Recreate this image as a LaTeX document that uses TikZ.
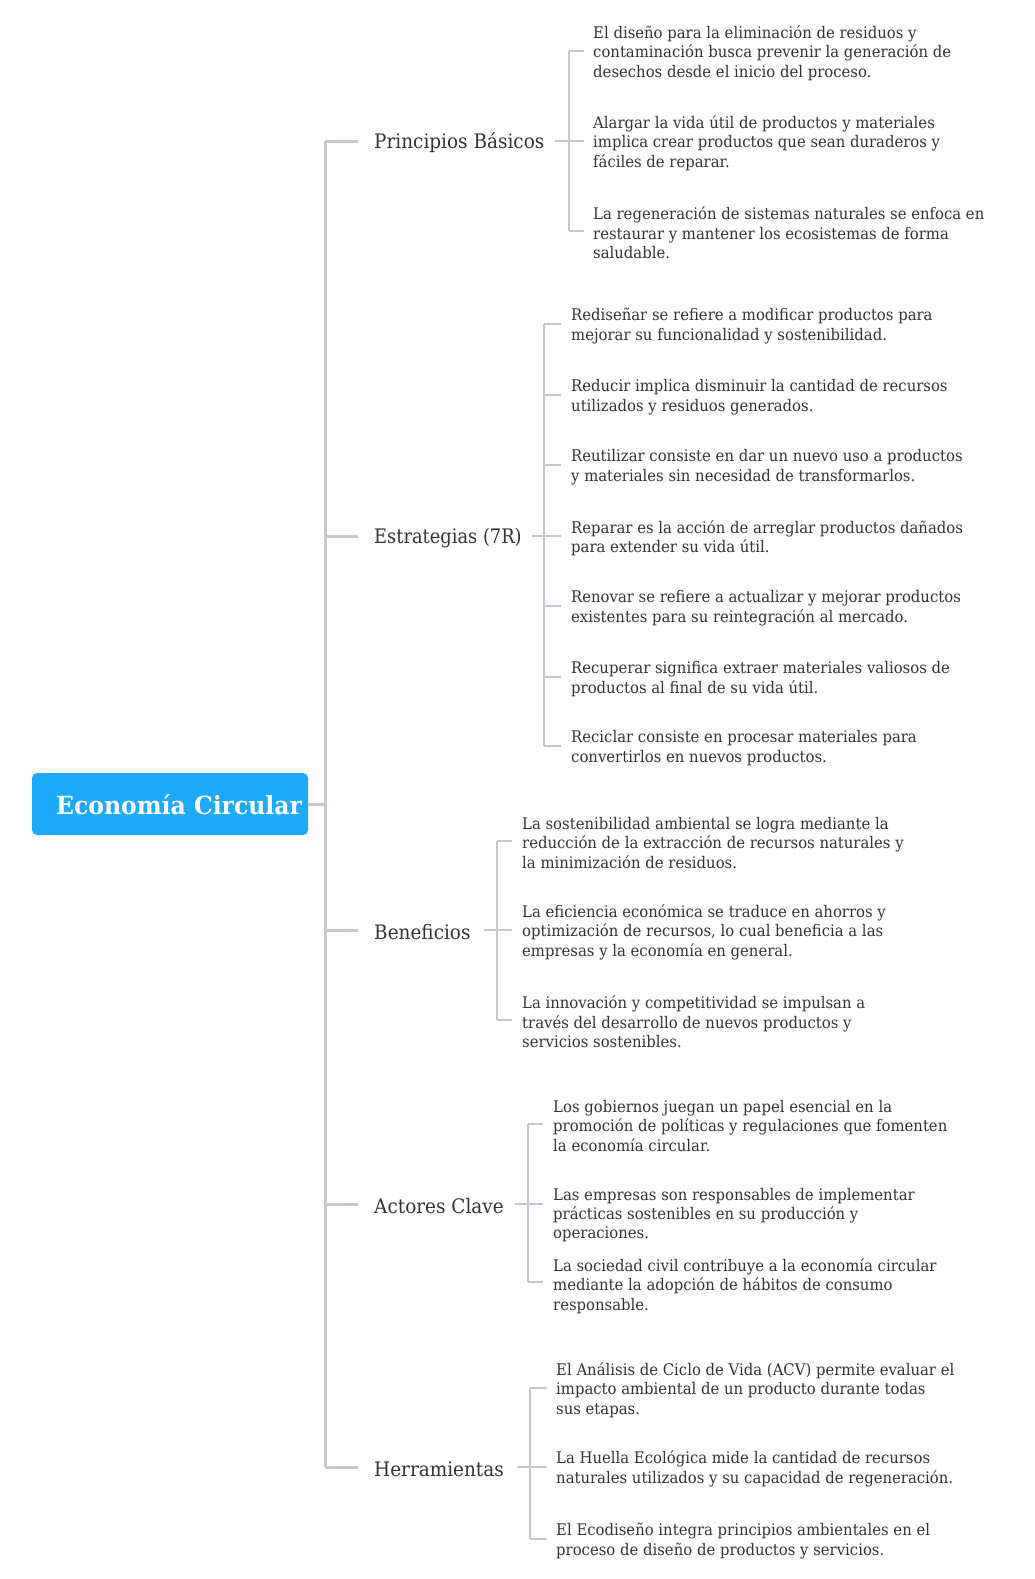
\documentclass[tikz,border=0pt]{standalone}
\usepackage{fontspec}
\setmainfont{DejaVu Serif}
\newfontfamily\leaffont[FakeStretch=0.928]{DejaVu Serif}
\newfontfamily\topicfont[FakeStretch=0.922]{DejaVu Serif}
\newfontfamily\topicfontnarrow[FakeStretch=0.892]{DejaVu Serif}
\newfontfamily\rootfont[FakeStretch=0.94]{DejaVu Serif}
\definecolor{txt}{HTML}{333333}
\definecolor{linec}{HTML}{C3C8CD}
\definecolor{rootblue}{HTML}{1EAAFC}
\tikzset{
  leaf/.style={anchor=west, align=left, inner sep=0pt, text=txt, yshift=-2pt,
    font=\leaffont\fontsize{16}{19.4}\selectfont},
  topic/.style={anchor=west, inner sep=0pt, text=txt, yshift=-2pt,
    font=\topicfont\fontsize{20}{24}\selectfont},
  roottext/.style={anchor=west, inner sep=0pt, text=white, yshift=-1pt,
    font=\rootfont\bfseries\fontsize{25}{30}\selectfont},
  trunk/.style={draw=linec, line width=3pt},
  br/.style={draw=linec, line width=2pt},
}
\begin{document}
\begin{tikzpicture}[x=1pt,y=-1pt]
\useasboundingbox (0,0) rectangle (1035,1579);
\fill[white] (0,0) rectangle (1035,1579);

% root
\fill[rootblue, rounded corners=5pt] (32,773) rectangle (308,835);
\node[roottext] (root) at (56,804) {Economía Circular};
\coordinate (rootE) at (308,804);
\coordinate (tk) at (325,804);

% topics
\node[topic] (t1) at (374,141) {Principios Básicos};
\node[topic, font=\topicfontnarrow\fontsize{20}{24}\selectfont] (t2) at (374,536) {Estrategias (7R)};
\node[topic] (t3) at (374,930) {Beneficios};
\node[topic] (t4) at (374,1204) {Actores Clave};
\node[topic] (t5) at (374,1467) {Herramientas};
\coordinate (y1) at (0,141);
\coordinate (y2) at (0,536);
\coordinate (y3) at (0,930);
\coordinate (y4) at (0,1204);
\coordinate (y5) at (0,1467);

% trunk
\draw[trunk] (rootE) -- (tk);
\draw[trunk] (tk |- y1) -- (tk |- y5);
\foreach \t in {1,2,3,4,5}
  \draw[trunk] (tk |- y\t) -- (358,0 |- y\t);

% ---------- Principios Basicos
\node[leaf] (l11) at (593,51) {El diseño para la eliminación de residuos y\\contaminación busca prevenir la generación de\\desechos desde el inicio del proceso.};
\node[leaf] (l12) at (593,141) {Alargar la vida útil de productos y materiales\\implica crear productos que sean duraderos y\\fáciles de reparar.};
\node[leaf] (l13) at (593,231) {La regeneración de sistemas naturales se enfoca en\\restaurar y mantener los ecosistemas de forma\\saludable.};
\coordinate (b1) at (569,0);
\coordinate (e1) at (584,0);
\draw[br] (555,0 |- y1) -- (e1 |- y1);
\draw[br] (b1 |- 0,51) -- (b1 |- 0,231);
\foreach \y in {51,141,231} \draw[br] (b1 |- 0,\y) -- (e1 |- 0,\y);

% ---------- Estrategias
\node[leaf] (l21) at (571,324) {Rediseñar se refiere a modificar productos para\\mejorar su funcionalidad y sostenibilidad.};
\node[leaf] (l22) at (571,395) {Reducir implica disminuir la cantidad de recursos\\utilizados y residuos generados.};
\node[leaf] (l23) at (571,465) {Reutilizar consiste en dar un nuevo uso a productos\\y materiales sin necesidad de transformarlos.};
\node[leaf] (l24) at (571,536) {Reparar es la acción de arreglar productos dañados\\para extender su vida útil.};
\node[leaf] (l25) at (571,606) {Renovar se refiere a actualizar y mejorar productos\\existentes para su reintegración al mercado.};
\node[leaf] (l26) at (571,677) {Recuperar significa extraer materiales valiosos de\\productos al final de su vida útil.};
\node[leaf] (l27) at (571,746) {Reciclar consiste en procesar materiales para\\convertirlos en nuevos productos.};
\coordinate (b2) at (544,0);
\coordinate (e2) at (561,0);
\draw[br] (532,0 |- y2) -- (e2 |- y2);
\draw[br] (b2 |- 0,324) -- (b2 |- 0,746);
\foreach \y in {324,395,465,536,606,677,746} \draw[br] (b2 |- 0,\y) -- (e2 |- 0,\y);

% ---------- Beneficios
\node[leaf] (l31) at (522,841) {La sostenibilidad ambiental se logra mediante la\\reducción de la extracción de recursos naturales y\\la minimización de residuos.};
\node[leaf] (l32) at (522,930) {La eficiencia económica se traduce en ahorros y\\optimización de recursos, lo cual beneficia a las\\empresas y la economía en general.};
\node[leaf] (l33) at (522,1020) {La innovación y competitividad se impulsan a\\través del desarrollo de nuevos productos y\\servicios sostenibles.};
\coordinate (b3) at (497,0);
\coordinate (e3) at (512,0);
\draw[br] (484,0 |- y3) -- (e3 |- y3);
\draw[br] (b3 |- 0,841) -- (b3 |- 0,1020);
\foreach \y in {841,930,1020} \draw[br] (b3 |- 0,\y) -- (e3 |- 0,\y);

% ---------- Actores Clave
\node[leaf] (l41) at (553,1124) {Los gobiernos juegan un papel esencial en la\\promoción de políticas y regulaciones que fomenten\\la economía circular.};
\node[leaf] (l42) at (553,1213) {Las empresas son responsables de implementar\\prácticas sostenibles en su producción y\\operaciones.};
\node[leaf] (l43) at (553,1284) {La sociedad civil contribuye a la economía circular\\mediante la adopción de hábitos de consumo\\responsable.};
\coordinate (b4) at (528,0);
\coordinate (e4) at (543,0);
\draw[br] (515,0 |- y4) -- (e4 |- y4);
\draw[br] (b4 |- 0,1124) -- (b4 |- 0,1282);
\foreach \y in {1124,1282} \draw[br] (b4 |- 0,\y) -- (e4 |- 0,\y);

% ---------- Herramientas
\node[leaf] (l51) at (556,1388) {El Análisis de Ciclo de Vida (ACV) permite evaluar el\\impacto ambiental de un producto durante todas\\sus etapas.};
\node[leaf] (l52) at (556,1467) {La Huella Ecológica mide la cantidad de recursos\\naturales utilizados y su capacidad de regeneración.};
\node[leaf] (l53) at (556,1539) {El Ecodiseño integra principios ambientales en el\\proceso de diseño de productos y servicios.};
\coordinate (b5) at (530,0);
\coordinate (e5) at (547,0);
\draw[br] (517,0 |- y5) -- (e5 |- y5);
\draw[br] (b5 |- 0,1388) -- (b5 |- 0,1539);
\foreach \y in {1388,1467,1539} \draw[br] (b5 |- 0,\y) -- (e5 |- 0,\y);
\end{tikzpicture}
\end{document}
